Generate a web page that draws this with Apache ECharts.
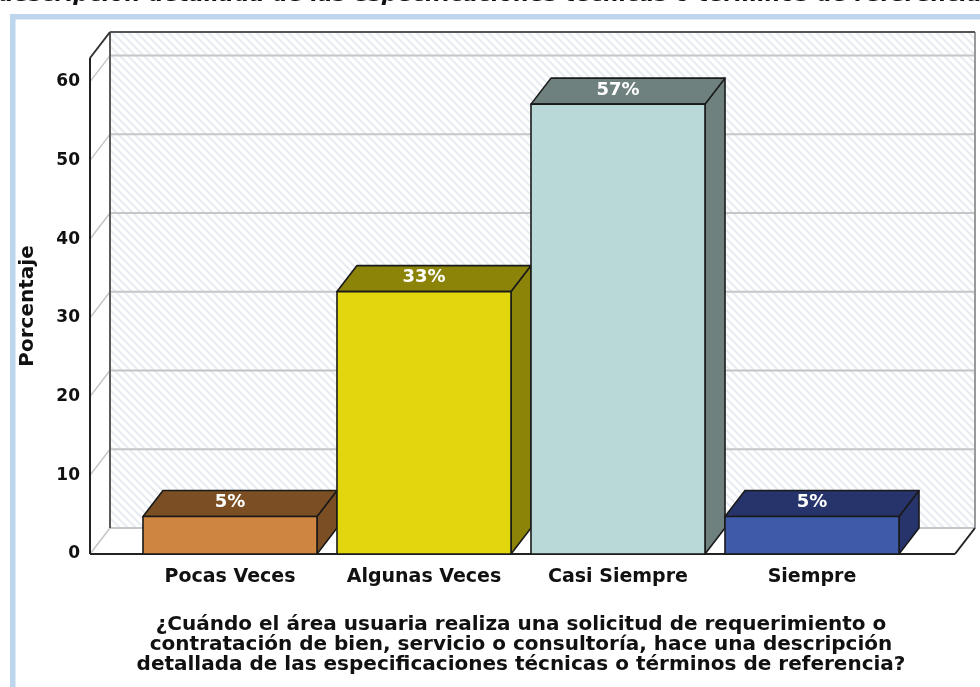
<!DOCTYPE html>
<html><head><meta charset="utf-8">
<script src="https://cdn.jsdelivr.net/npm/echarts@6/dist/echarts.min.js"></script>
<style>html,body{margin:0;padding:0;background:#fff}#chart{width:980px;height:687px}</style>
</head><body><div id="chart"></div>
<script>
// ---- data ----
const categories = ['Pocas Veces', 'Algunas Veces', 'Casi Siempre', 'Siempre'];
const values = [4.76, 33.33, 57.14, 4.76];
const valueLabels = ['5%', '33%', '57%', '5%'];
const frontColors = ['#cd8541', '#e2d70f', '#b8d9d7', '#3f5aa9'];
const darkColors = ['#7b4f23', '#8b8408', '#6f817e', '#26346b'];
const gridValues = [0, 10, 20, 30, 40, 50, 60];
const yAxisTitle = 'Porcentaje';
const xAxisTitle = '¿Cuándo el área usuaria realiza una solicitud de requerimiento o\ncontratación de bien, servicio o consultoría, hace una descripción\ndetallada de las especificaciones técnicas o términos de referencia?';
const topTitle = 'descripción detallada de las especificaciones técnicas o términos de referencia?';

// ---- style constants ----
const DX = 20, DY = -26;
const FONT = 'DejaVu Sans';

// hatch pattern for back wall
const pc = document.createElement('canvas');
pc.width = 8; pc.height = 8;
const g = pc.getContext('2d');
g.fillStyle = '#ffffff'; g.fillRect(0, 0, 8, 8);
g.strokeStyle = '#e7ecf3'; g.lineWidth = 2;
g.beginPath();
g.moveTo(-2, -2); g.lineTo(10, 10);
g.moveTo(-2, 6); g.lineTo(2, 10);
g.moveTo(6, -2); g.lineTo(10, 2);
g.stroke();
const hatch = { image: pc, repeat: 'repeat' };

function line(x1, y1, x2, y2, color, w) {
  return { type: 'line', shape: { x1, y1, x2, y2 }, style: { stroke: color, lineWidth: w } };
}

function renderWalls(params, api) {
  const cs = params.coordSys;
  const L = cs.x - 43, R = cs.x + cs.width + 46;
  const yTop = cs.y;
  const y0 = api.coord([0, 0])[1];
  const ch = [];
  ch.push({ type: 'polygon', shape: { points: [[L + DX, yTop + DY], [R + DX, yTop + DY], [R + DX, y0 + DY], [L + DX, y0 + DY]] }, style: { fill: hatch } });
  ch.push({ type: 'polygon', shape: { points: [[L, y0], [R, y0], [R + DX, y0 + DY], [L + DX, y0 + DY]] }, style: { fill: '#fff' } });
  ch.push({ type: 'polygon', shape: { points: [[L, yTop], [L + DX, yTop + DY], [L + DX, y0 + DY], [L, y0]] }, style: { fill: '#fff' } });
  gridValues.forEach(function (v) {
    const y = api.coord([0, v])[1];
    ch.push(line(L + DX, y + DY, R + DX, y + DY, '#c6c6c6', 2));
    ch.push(line(L, y, L + DX, y + DY, '#c6c6c6', 1.5));
  });
  ch.push(line(L + DX, yTop + DY, L + DX, y0 + DY, '#5a5a5a', 2));
  ch.push(line(R + DX, yTop + DY, R + DX, y0 + DY, '#9a9a9a', 2));
  ch.push(line(L + DX, yTop + DY, R + DX, yTop + DY, '#555', 2));
  ch.push(line(L, yTop, L + DX, yTop + DY, '#333', 2));
  ch.push(line(L, yTop, L, y0, '#222', 2));
  ch.push(line(L, y0, R, y0, '#222', 2));
  ch.push(line(R, y0, R + DX, y0 + DY, '#222', 2));
  return { type: 'group', children: ch };
}

function renderBar(params, api) {
  const i = api.value(0), v = api.value(1);
  const base = api.coord([i, 0]), top = api.coord([i, v]);
  const bw = api.size([1, 0])[0] * 0.897;
  const x1 = base[0] - bw / 2, x2 = base[0] + bw / 2;
  const yb = base[1], yt = top[1];
  const idx = params.dataIndex;
  const stroke = { stroke: '#1a1a1a', lineWidth: 1.6, lineJoin: 'round' };
  return {
    type: 'group',
    children: [
      { type: 'polygon', shape: { points: [[x2, yt], [x2 + DX, yt + DY], [x2 + DX, yb + DY], [x2, yb]] }, style: Object.assign({ fill: darkColors[idx] }, stroke) },
      { type: 'polygon', shape: { points: [[x1, yt], [x2, yt], [x2 + DX, yt + DY], [x1 + DX, yt + DY]] }, style: Object.assign({ fill: darkColors[idx] }, stroke) },
      { type: 'rect', shape: { x: x1, y: yt, width: bw, height: yb - yt }, style: Object.assign({ fill: frontColors[idx] }, stroke) },
      { type: 'text', x: base[0], y: yt + DY / 2 - 1, style: { text: valueLabels[idx], fill: '#ffffff', font: 'bold 18px "' + FONT + '"', align: 'center', verticalAlign: 'middle' } }
    ]
  };
}

const chart = echarts.init(document.getElementById('chart'), null, { renderer: 'canvas' });
chart.setOption({
  backgroundColor: '#ffffff',
  animation: false,
  grid: { left: 133, right: 71, top: 58, bottom: 133 },
  xAxis: {
    type: 'category',
    data: categories,
    axisLine: { show: false },
    axisTick: { show: false },
    splitLine: { show: false },
    axisLabel: { interval: 0, hideOverlap: false, margin: 14, color: '#111', fontFamily: FONT, fontWeight: 'bold', fontSize: 19 },
    name: xAxisTitle,
    nameLocation: 'middle',
    nameGap: 61,
    nameTextStyle: { color: '#111', fontFamily: FONT, fontWeight: 'bold', fontSize: 20, lineHeight: 20, align: 'center' }
  },
  yAxis: {
    type: 'value',
    min: 0, max: 63, interval: 10,
    offset: 43,
    axisLine: { show: false },
    axisTick: { show: false },
    splitLine: { show: false },
    axisLabel: { margin: 10, showMaxLabel: false, color: '#111', fontFamily: FONT, fontWeight: 'bold', fontSize: 17, padding: [8, 0, 0, 0] },
    name: yAxisTitle,
    nameLocation: 'middle',
    nameGap: 52,
    nameTextStyle: { color: '#111', fontFamily: FONT, fontWeight: 'bold', fontSize: 20 }
  },
  graphic: [
    { type: 'rect', left: 10, top: 14, shape: { x: 0, y: 0, width: 1000, height: 700 }, style: { fill: 'none', stroke: '#bdd6ee', lineWidth: 5.5 }, z: 100 },
    { type: 'text', x: -2, y: 6, style: { text: topTitle, fill: '#111', font: 'italic bold 22px "' + FONT + '"', align: 'left', verticalAlign: 'bottom' }, z: 100 }
  ],
  series: [
    { type: 'custom', renderItem: renderWalls, data: [[0, 0]], z: 1, silent: true, clip: false },
    { type: 'custom', renderItem: renderBar, data: values.map(function (v, i) { return [i, v]; }), encode: { x: 0, y: 1 }, z: 5, clip: false }
  ]
});
</script>
</body></html>
